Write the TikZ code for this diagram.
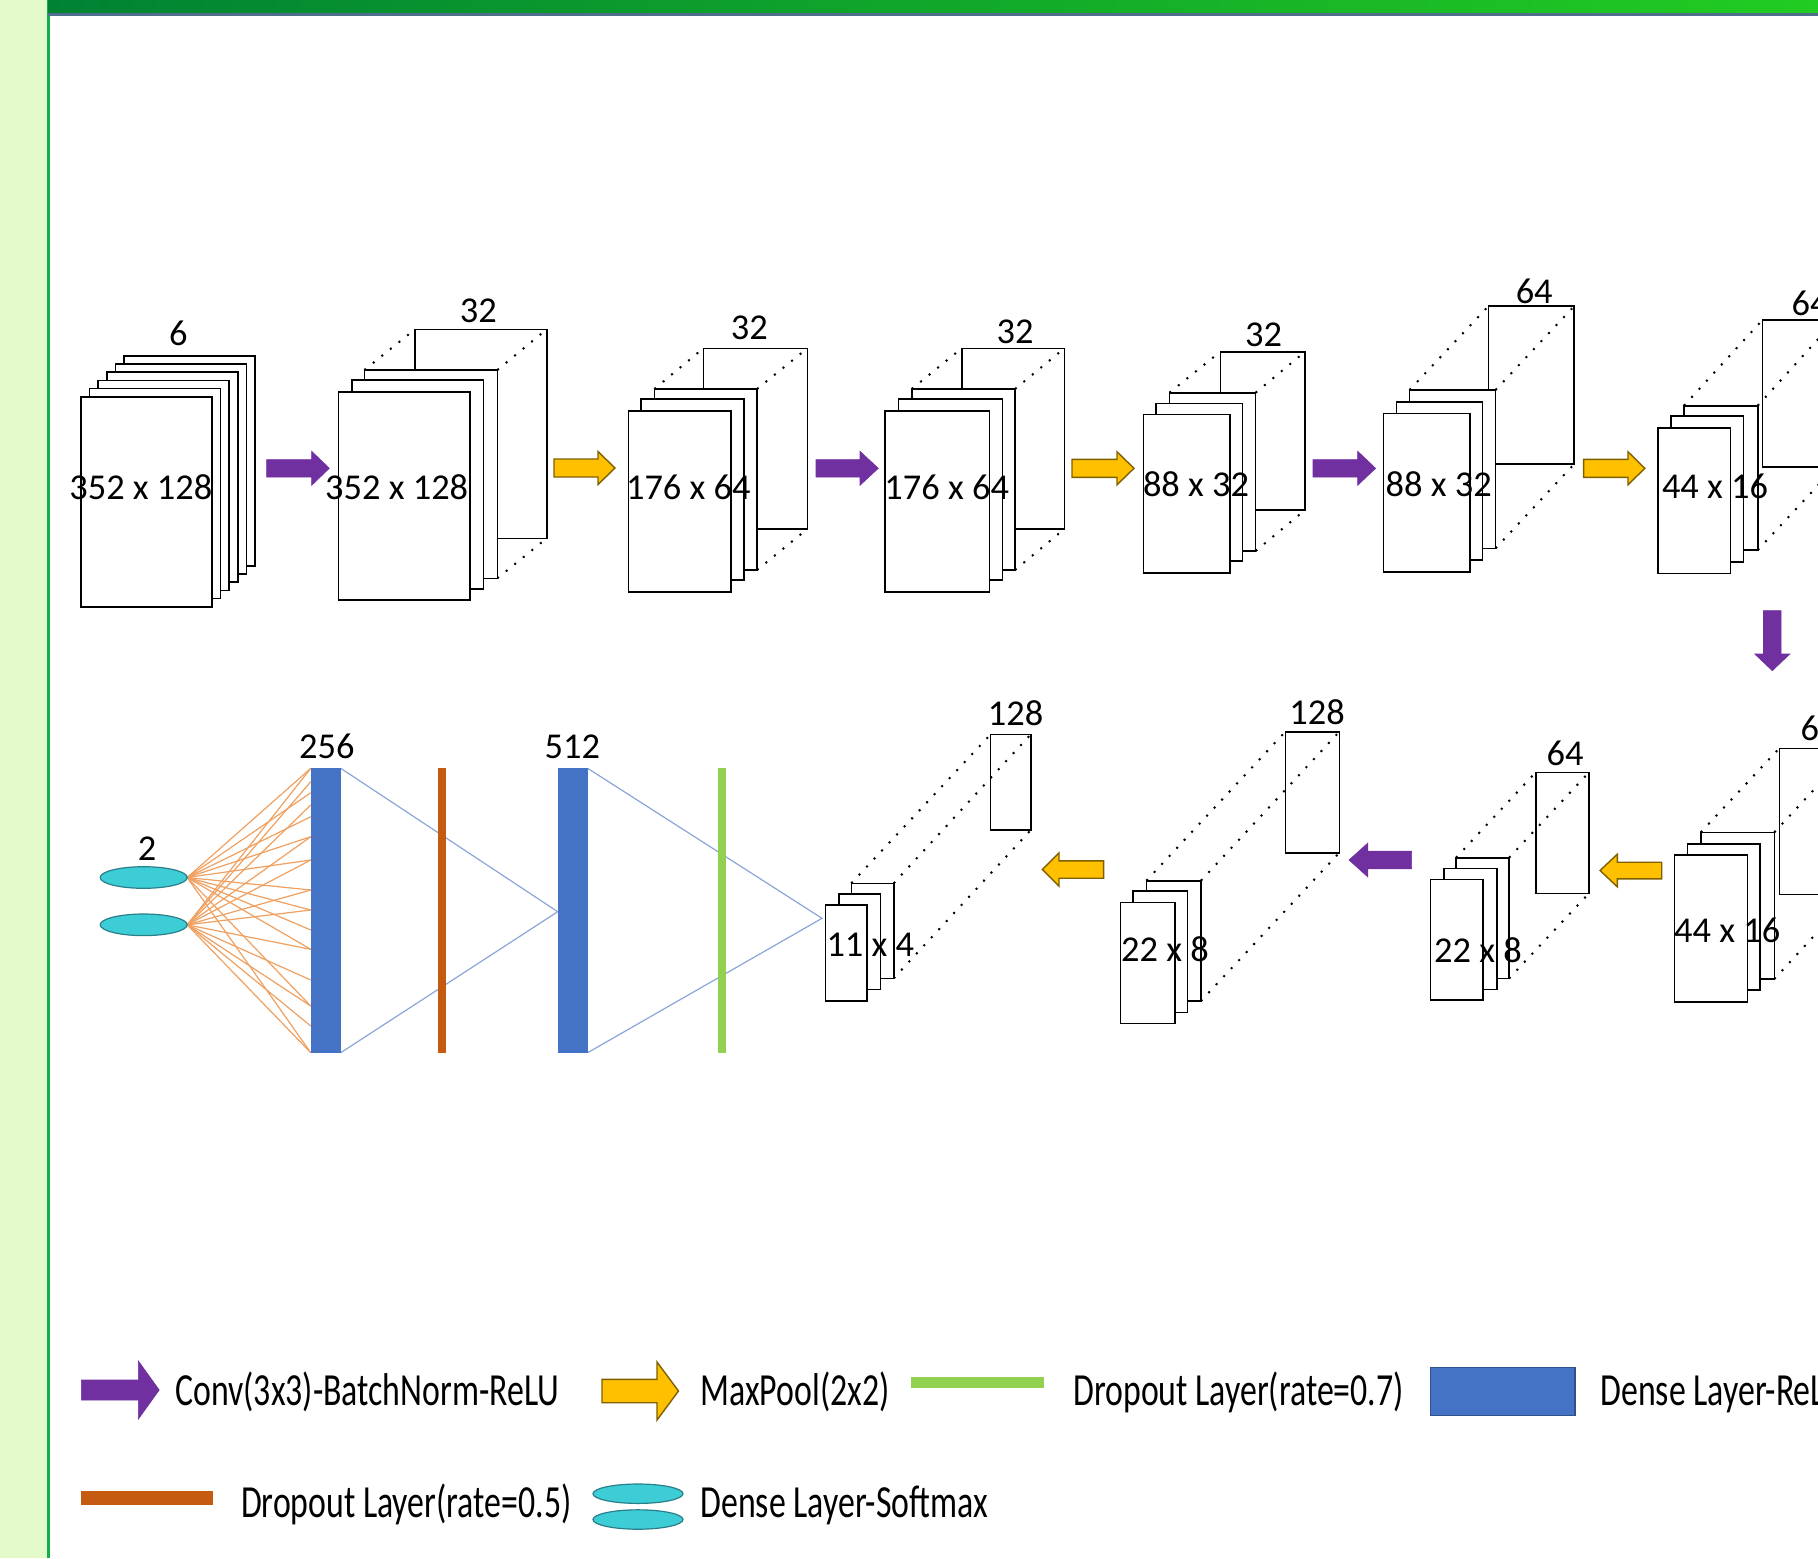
\documentclass[tikz,border=0pt]{standalone}
\usepackage{fontspec}
\setmainfont{Carlito}
\newfontfamily\legfont{Carlito}[FakeStretch=0.735]
\definecolor{cpurple}{HTML}{7030A0}
\definecolor{cyellow}{HTML}{FFC000}
\definecolor{cyellowd}{HTML}{7F6000}
\definecolor{cblue}{HTML}{4472C4}
\definecolor{cblued}{HTML}{2F528F}
\definecolor{corange}{HTML}{C55A11}
\definecolor{cgreen}{HTML}{92D050}
\definecolor{ccyan}{HTML}{3CCDD6}
\definecolor{ccyand}{HTML}{2A7F8A}
\definecolor{cfan}{HTML}{F0A060}
\definecolor{cconn}{HTML}{8AA6D8}
\definecolor{cstrip}{HTML}{E4FACB}
\definecolor{cvline}{HTML}{12B04A}
\definecolor{cbarA}{HTML}{008233}
\definecolor{cbarB}{HTML}{22CC22}
\definecolor{cbarline}{HTML}{4F6E8C}
\newcommand\fm[4]{\draw[fmap] (#1,#2) rectangle ++(#3,#4);}
\newcommand\fmdots[8]{%
 \draw[fdots] (#1,#2) -- (#5,#6);
 \draw[fdots] ({#1+#3},#2) -- ({#5+#7},#6);
 \draw[fdots] ({#1+#3},{#2+#4}) -- ({#5+#7},{#6+#8});}
\newcommand\harrow[7]{%
 \draw[#7] (#1,{#4-#5}) -- (#3,{#4-#5}) -- (#3,{#4-#6}) -- (#2,#4) -- (#3,{#4+#6}) -- (#3,{#4+#5}) -- (#1,{#4+#5}) -- cycle;}
\tikzset{
 fmap/.style={draw=black, fill=white, line width=0.8pt},
 fdots/.style={line width=1pt, dash pattern=on 1pt off 4.5pt},
 conv/.style={fill=cpurple, draw=cpurple, line width=0.3pt},
 pool/.style={fill=cyellow, draw=cyellowd, line width=0.7pt},
 lbl/.style={font=\fontsize{18.2}{21}\selectfont, inner sep=0pt},
 leg/.style={font=\legfont\fontsize{23}{27}\selectfont, inner sep=0pt, anchor=base west},
 fan/.style={draw=cfan, line width=0.6pt},
 conn/.style={draw=cconn, line width=0.6pt},
 ell/.style={fill=ccyan, draw=ccyand, line width=0.6pt},
}
\begin{document}
\begin{tikzpicture}[x=0.5pt,y=-0.5pt]
\useasboundingbox (0,0) rectangle (1818,1558);
\clip (0,0) rectangle (1818,1558);
\fill[white] (0,0) rectangle (1818,1558);
% frame
\fill[cstrip] (0,0) rectangle (47,1558);
\fill[cvline] (47,0) rectangle (50,1558);
\shade[left color=cbarA, right color=cbarB] (48,0) rectangle (1818,13);
\fill[cbarline] (48,13) rectangle (1818,15.5);

% ---------- row 1 ----------
% B1
\foreach \i in {5,4,...,0}{\fm{80.7+8.7*\i}{396.7-8.14*\i}{131}{210}}
% B2
\fm{415}{329.3}{131.7}{209}
\fmdots{364.3}{370}{133}{208.3}{415}{329.3}{131.7}{209}
\fm{364.3}{370}{133}{208.3}
\fm{351.7}{380}{131.6}{209}
\fm{338.3}{391.7}{131.7}{208.3}
% B3
\fm{703.3}{348.3}{104}{180.7}
\fmdots{654.3}{389}{102.7}{181}{703.3}{348.3}{104}{180.7}
\fm{654.3}{389}{102.7}{181}
\fm{641}{399}{103}{181}
\fm{628.3}{411}{102.7}{180.7}
% B4
\fm{961.7}{348.3}{102.6}{180.7}
\fmdots{911.7}{389}{103.3}{181}{961.7}{348.3}{102.6}{180.7}
\fm{911.7}{389}{103.3}{181}
\fm{898.3}{399}{104}{181}
\fm{885}{411}{104.3}{180.7}
% B5
\fm{1220.3}{351.7}{84.7}{158.3}
\fmdots{1169.4}{392.7}{86.2}{158.3}{1220.3}{351.7}{84.7}{158.3}
\fm{1169.4}{392.7}{86.2}{158.3}
\fm{1156.2}{403.3}{86.2}{157.7}
\fm{1143.5}{414.3}{86.2}{158.4}
% B6
\fm{1488.5}{306}{85.7}{158}
\fmdots{1409.5}{390}{86.1}{158.3}{1488.5}{306}{85.7}{158}
\fm{1409.5}{390}{86.1}{158.3}
\fm{1396.3}{401.7}{86.1}{158.3}
\fm{1383.6}{413.3}{86.1}{158.4}
% B7
\fm{1762.4}{320}{73}{146.7}
\fmdots{1683.9}{405.7}{73.8}{144.3}{1762.4}{320}{73}{146.7}
\fm{1683.9}{405.7}{73.8}{144.3}
\fm{1670.7}{416}{72.9}{145.7}
\fm{1658}{427.7}{72.4}{145.6}

% arrows row 1
\harrow{266.7}{329.3}{311.7}{468.3}{8.7}{17}{conv}
\harrow{554}{615}{598}{468}{9}{16.5}{pool}
\harrow{816}{878.3}{860}{468.3}{8.7}{17}{conv}
\harrow{1072}{1134}{1117}{468.3}{9}{16.5}{pool}
\harrow{1313}{1375.6}{1357.7}{468.3}{8.7}{17}{conv}
\harrow{1583.6}{1644.8}{1628}{468.3}{9}{16.5}{pool}
\draw[conv] (1763.5,610.7) -- (1763.5,654) -- (1754.8,654) -- (1772.3,670.7) -- (1789.8,654) -- (1781.1,654) -- (1781.1,610.7) -- cycle;

% labels row 1
\node[lbl] (l1a) at (178.3,333) {6};
\node[lbl] (l1b) at (140.8,487.5) {352 x 128};
\node[lbl] (l2a) at (478.3,311) {32};
\node[lbl] (l2b) at (396.7,487.5) {352 x 128};
\node[lbl] (l3a) at (749.3,328.3) {32};
\node[lbl] (l3b) at (688.3,487.5) {176 x 64};
\node[lbl] (l4a) at (1015,331.7) {32};
\node[lbl] (l4b) at (946.7,487.5) {176 x 64};
\node[lbl] (l5a) at (1263.6,335) {32};
\node[lbl] (l5b) at (1196,484) {88 x 32};
\node[lbl] (l6a) at (1534.2,291.7) {64};
\node[lbl] (l6b) at (1438.7,484) {88 x 32};
\node[lbl] (l7a) at (1810,303) {64};
\node[lbl] (l7b) at (1715,486) {44 x 16};

% ---------- row 2 ----------
% B8
\fm{1779.3}{748.3}{73}{146}
\fmdots{1700.7}{832.3}{73.6}{146.7}{1779.3}{748.3}{73}{146}
\fm{1700.7}{832.3}{73.6}{146.7}
\fm{1687.3}{844}{72.7}{146}
\fm{1674.3}{855}{73}{146.7}
% B9
\fm{1535.7}{772.3}{53.3}{121}
\fmdots{1456}{857.7}{53}{120.7}{1535.7}{772.3}{53.3}{121}
\fm{1456}{857.7}{53}{120.7}
\fm{1443.8}{868.3}{53}{121}
\fm{1430.4}{879.3}{52.6}{120.7}
% B10
\fm{1285.3}{731.7}{54}{121}
\fmdots{1146.4}{880.7}{54.5}{120.3}{1285.3}{731.7}{54}{121}
\fm{1146.4}{880.7}{54.5}{120.3}
\fm{1133}{891}{54.5}{121.3}
\fm{1120.5}{902.3}{54.5}{121}
% B11
\fm{990.6}{734.3}{40.2}{95.7}
\fmdots{851.3}{883.3}{42.4}{95}{990.6}{734.3}{40.2}{95.7}
\fm{851.3}{883.3}{42.4}{95}
\fm{838.8}{894}{41.6}{95.3}
\fm{825.4}{905}{41.6}{95.7}

% arrows row 2
\harrow{1661.7}{1600}{1617.3}{870.5}{8.3}{16.3}{pool}
\harrow{1411.6}{1349}{1367.9}{860}{8.8}{17}{conv}
\harrow{1103.6}{1042.4}{1059}{869.5}{8.7}{16.7}{pool}

% labels row 2
\node[lbl] (l8a) at (1819,728.3) {64};
\node[lbl] (l8b) at (1727.2,930) {44 x 16};
\node[lbl] (l9a) at (1565,753.3) {64};
\node[lbl] (l9b) at (1478,950) {22 x 8};
\node[lbl] (l10a) at (1317,711.7) {128};
\node[lbl] (l10b) at (1165,949.3) {22 x 8};
\node[lbl] (l11a) at (1015.6,713.3) {128};
\node[lbl] (l11b) at (870.3,945) {11 x 4};

% dense part
\coordinate (e1) at (187.2,877.5);
\coordinate (e2) at (187.2,924.8);
\foreach \yy in {768.3,792.7,816.7,836.7,860,890,910,930,949.3,1006,1052.7}{\draw[fan] (e1) -- (310.8,\yy);}
\foreach \yy in {768.3,781.7,805,836.7,860,890,910,949.3,980,1006,1026,1052.7}{\draw[fan] (e2) -- (310.8,\yy);}
\draw[ell] (143.7,877.5) ellipse [x radius=43.5, y radius=10.8];
\draw[ell] (143.7,924.8) ellipse [x radius=43.5, y radius=10.8];
\node[lbl] (l2n) at (147,848.3) {2};

\coordinate (d1tr) at (340.7,768.3);
\coordinate (d1br) at (340.7,1052.7);
\coordinate (d2l) at (557.7,911.7);
\coordinate (d2tr) at (587.6,768.3);
\coordinate (d2br) at (587.6,1052.7);
\coordinate (f11) at (822,918.3);
\draw[conn] (d1tr) -- (d2l) -- (d1br);
\draw[conn] (d2tr) -- (f11) -- (d2br);

\fill[cblue] (310.8,768.3) rectangle (340.7,1052.7);
\fill[corange] (438,768.3) rectangle (446,1052.7);
\fill[cblue] (557.7,768.3) rectangle (587.6,1052.7);
\fill[cgreen] (717.5,768.3) rectangle (726,1052.7);
\node[lbl] (l256) at (326.9,746.7) {256};
\node[lbl] (l512) at (572.4,746.7) {512};

% ---------- legend ----------
\harrow{81.4}{159.2}{138.4}{1390}{10}{29}{conv}
\node[leg] (t1) at (175,1405) {Conv(3x3)-BatchNorm-ReLU};
\harrow{602}{678.5}{657}{1391}{11.7}{29}{pool}
\node[leg] (t2) at (700,1405) {MaxPool(2x2)};
\fill[cgreen] (911,1376.7) rectangle (1044.3,1388.3);
\node[leg] (t3) at (1073,1405) {Dropout Layer(rate=0.7)};
\draw[fill=cblue, draw=cblued, line width=0.6pt] (1430.4,1367.3) rectangle (1574.9,1415.7);
\node[leg] (t4) at (1600,1405) {Dense Layer-ReLU};
\fill[corange] (81.4,1491) rectangle (213,1505);
\node[leg] (t5) at (240.6,1517) {Dropout Layer(rate=0.5)};
\draw[ell] (638,1493.7) ellipse [x radius=45, y radius=9.7];
\draw[ell] (638,1519.5) ellipse [x radius=45, y radius=9.7];
\node[leg] (t6) at (700,1517) {Dense Layer-Softmax};
\end{tikzpicture}
\end{document}
